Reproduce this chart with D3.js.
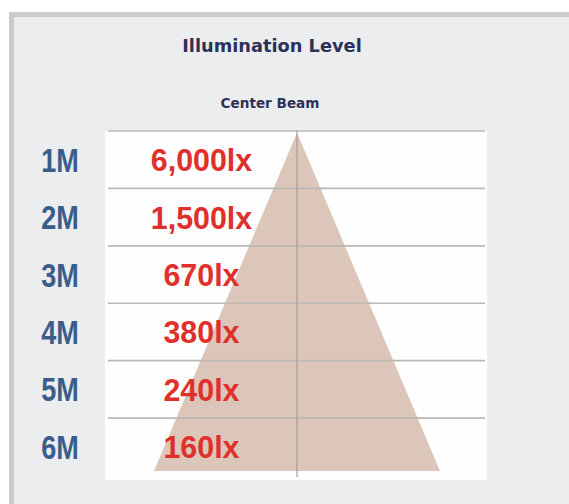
<!DOCTYPE html>
<html>
<head>
<meta charset="utf-8">
<script src="https://cdn.jsdelivr.net/npm/d3@7"></script>
<style>
  html, body { margin: 0; padding: 0; background: #fff; }
  svg { display: block; }
</style>
</head>
<body>
<div id="chart"></div>
<script>
// illumination table data
var distances = ["1M", "2M", "3M", "4M", "5M", "6M"];
var lux = [6000, 1500, 670, 380, 240, 160];
var title = "Illumination Level";
var subtitle = "Center Beam";

var W = 569, H = 504;
var svg = d3.select("#chart").append("svg")
    .attr("width", W).attr("height", H);

// panel with gray frame
svg.append("rect")
    .attr("x", 11.5).attr("y", 14.5)
    .attr("width", W + 20).attr("height", H + 20)
    .attr("fill", "#ecedef")
    .attr("stroke", "#c8cbd0").attr("stroke-width", 5);

svg.append("text")
    .attr("x", 272).attr("y", 52)
    .attr("text-anchor", "middle")
    .style("font-family", "DejaVu Sans")
    .style("font-weight", "bold")
    .style("font-size", "17.8px")
    .style("fill", "#2c3157")
    .text(title);

svg.append("text")
    .attr("x", 270).attr("y", 108)
    .attr("text-anchor", "middle")
    .style("font-family", "DejaVu Sans")
    .style("font-weight", "bold")
    .style("font-size", "13.6px")
    .style("fill", "#2c3157")
    .text(subtitle);

// table area
var tx0 = 105, tx1 = 487, tTop = 131, tBot = 475.5;
var y = d3.scaleBand().domain(distances).range([tTop, tBot]);
// distance along the beam -> vertical position
var dy = d3.scaleLinear().domain([0, distances.length]).range([tTop, tBot]);

svg.append("rect")
    .attr("x", tx0).attr("y", tTop)
    .attr("width", tx1 - tx0).attr("height", 480 - tTop)
    .attr("fill", "#fefefe");

// beam cone
var apex = 297, reach = 5.92, spread = 143 / reach;
var cone = d3.line()([
    [apex, dy(0.03)],
    [apex + spread * reach, dy(reach)],
    [apex - spread * reach, dy(reach)]
]) + "Z";
svg.append("path")
    .attr("d", cone)
    .attr("fill", "#dcc6b9");

// row lines
svg.selectAll("line.row")
    .data(distances)
    .enter().append("line")
    .attr("class", "row")
    .attr("x1", 108).attr("x2", 485)
    .attr("y1", function(d) { return y(d); })
    .attr("y2", function(d) { return y(d); })
    .attr("stroke", "#bdb7b4").attr("stroke-width", 1.6);

// center line
svg.append("line")
    .attr("x1", apex).attr("x2", apex)
    .attr("y1", tTop).attr("y2", 477)
    .attr("stroke", "#a89c96").attr("stroke-width", 1.2);

var fmt = d3.format(",");

svg.selectAll("text.dist")
    .data(distances)
    .enter().append("text")
    .attr("class", "dist")
    .attr("transform", function(d) {
        return "translate(60," + (y(d) + y.bandwidth() / 2 + 12) + ") scale(0.82,1)";
    })
    .attr("text-anchor", "middle")
    .style("font-family", "Liberation Sans")
    .style("font-weight", "bold")
    .style("font-size", "33px")
    .style("fill", "#3a5d8c")
    .text(function(d) { return d; });

svg.selectAll("text.lux")
    .data(lux)
    .enter().append("text")
    .attr("class", "lux")
    .attr("transform", function(d, i) {
        return "translate(201.5," + (y(distances[i]) + y.bandwidth() / 2 + 11.5) + ") scale(0.95,1)";
    })
    .attr("text-anchor", "middle")
    .style("font-family", "Liberation Sans")
    .style("font-weight", "bold")
    .style("font-size", "32px")
    .style("fill", "#e0302c")
    .text(function(d) { return fmt(d) + "lx"; });
</script>
</body>
</html>
